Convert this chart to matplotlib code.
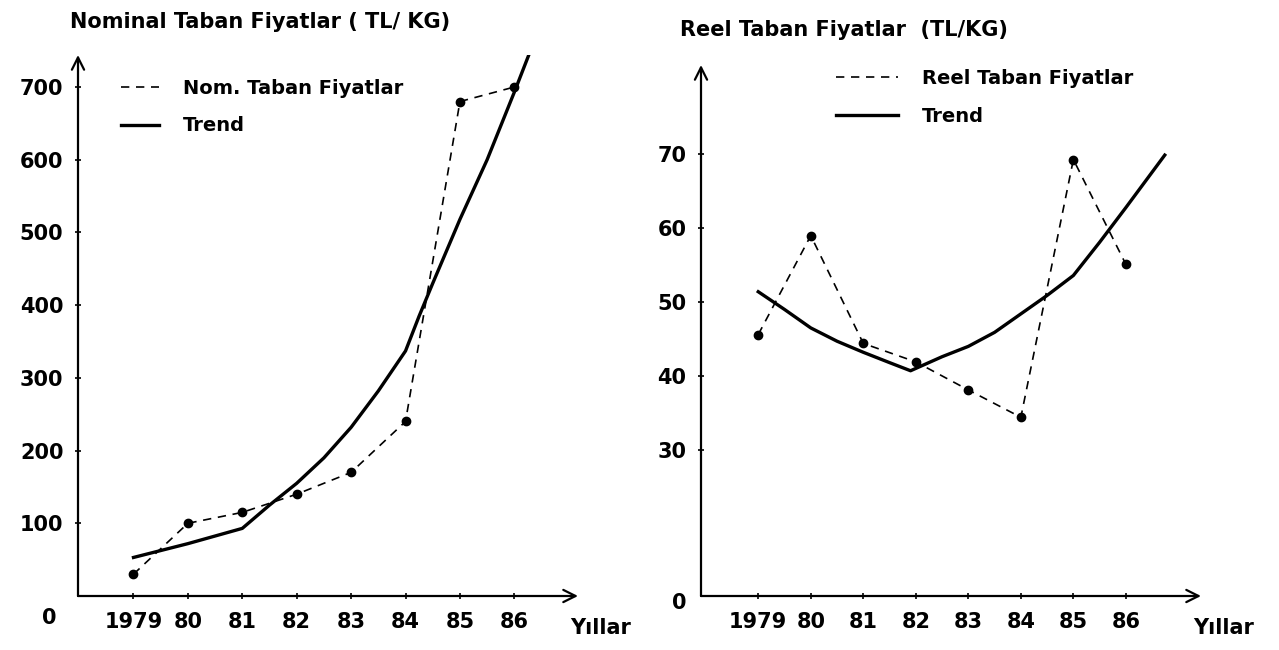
import matplotlib.pyplot as plt

# veriler
yillar = [1979, 1980, 1981, 1982, 1983, 1984, 1985, 1986]
yil_etiket = ["1979", "80", "81", "82", "83", "84", "85", "86"]

nominal = [30, 100, 115, 140, 170, 240, 680, 700]
nom_trend_x = [1979, 1980, 1981, 1981.5, 1982, 1982.5, 1983, 1983.5, 1984,
               1984.25, 1984.5, 1985, 1985.5, 1986, 1986.26]
nom_trend_y = [53, 72, 93, 125, 155, 190, 232, 282, 337, 385, 430, 518, 600,
               693, 743]

reel = [45.6, 59.0, 44.4, 41.9, 38.1, 34.4, 69.3, 55.1]
reel_trend_x = [1979, 1979.5, 1980, 1980.5, 1981, 1981.5, 1981.9, 1982.5, 1983,
                1983.5, 1984, 1984.5, 1985, 1985.5, 1986, 1986.74]
reel_trend_y = [51.4, 49.0, 46.5, 44.7, 43.2, 41.8, 40.7, 42.6, 44.0, 45.9,
                48.4, 50.9, 53.6, 58.1, 62.8, 69.9]

nom_yticks = [100, 200, 300, 400, 500, 600, 700]
reel_yticks = [30, 40, 50, 60, 70]

plt.rcParams['font.family'] = ['DejaVu Sans']
plt.rcParams['font.weight'] = 'bold'

W, H = 1279, 650
fig = plt.figure(figsize=(W / 100, H / 100), dpi=100)


def px_axes(x0, x1, ytop, ybot):
    return fig.add_axes([x0 / W, (H - ybot) / H, (x1 - x0) / W, (ybot - ytop) / H])


def eksen(ax):
    for s in ax.spines.values():
        s.set_visible(False)
    ax.annotate("", xy=(1, 0), xytext=(0, 0), xycoords="axes fraction",
                arrowprops=dict(arrowstyle="->", lw=1.6, color="k",
                                mutation_scale=22, shrinkA=0, shrinkB=0))
    ax.annotate("", xy=(0, 1), xytext=(0, 0), xycoords="axes fraction",
                arrowprops=dict(arrowstyle="->", lw=1.6, color="k",
                                mutation_scale=22, shrinkA=0, shrinkB=0))
    ax.set_xticks(yillar)
    ax.set_xticklabels(yil_etiket)
    ax.tick_params(axis="both", direction="inout", length=5, width=1.2,
                   labelsize=15, pad=8)
    ax.tick_params(axis="x", pad=9)


# ---- Sol: nominal
ax1 = px_axes(78, 578, 55, 596)
ax1.set_xlim(1977.98, 1987.17)
ax1.set_ylim(0, 744)
eksen(ax1)
ax1.set_yticks(nom_yticks)
ax1.plot(yillar, nominal, "k--", lw=1.2, dashes=(5, 4), label="Nom. Taban Fiyatlar")
ax1.plot(yillar, nominal, "ko", ms=6, ls="none")
ax1.plot(nom_trend_x, nom_trend_y, "k-", lw=2.4, label="Trend")
ax1.legend(loc="upper left", bbox_to_anchor=(0.05, 0.988), frameon=False,
           fontsize=14, handlelength=2.0, handletextpad=1.2, labelspacing=0.95)
fig.text(70 / W, 1 - 22 / H, "Nominal Taban Fiyatlar ( TL/ KG)", fontsize=15,
         va="center", ha="left")
fig.text(49 / W, 1 - 618 / H, "0", fontsize=15, ha="center", va="center")
fig.text(570 / W, 1 - 628 / H, "Yıllar", fontsize=15, ha="left", va="center")

# ---- Sag: reel
ax2 = px_axes(701, 1201, 65, 596)
ax2.set_xlim(1977.91, 1987.43)
ax2.set_ylim(10.2, 82.1)
eksen(ax2)
ax2.set_yticks(reel_yticks)
ax2.plot(yillar, reel, "k--", lw=1.2, dashes=(5, 4), label="Reel Taban Fiyatlar")
ax2.plot(yillar, reel, "ko", ms=6, ls="none")
ax2.plot(reel_trend_x, reel_trend_y, "k-", lw=2.4, label="Trend")
ax2.legend(loc="upper left", bbox_to_anchor=(0.235, 1.025), frameon=False,
           fontsize=14, handlelength=3.2, handletextpad=1.2, labelspacing=0.95)
fig.text(680 / W, 1 - 30 / H, "Reel Taban Fiyatlar  (TL/KG)", fontsize=15,
         va="center", ha="left")
fig.text(679 / W, 1 - 603 / H, "0", fontsize=15, ha="center", va="center")
fig.text(1193 / W, 1 - 628 / H, "Yıllar", fontsize=15, ha="left", va="center")

fig.savefig("out.png", dpi=100)
